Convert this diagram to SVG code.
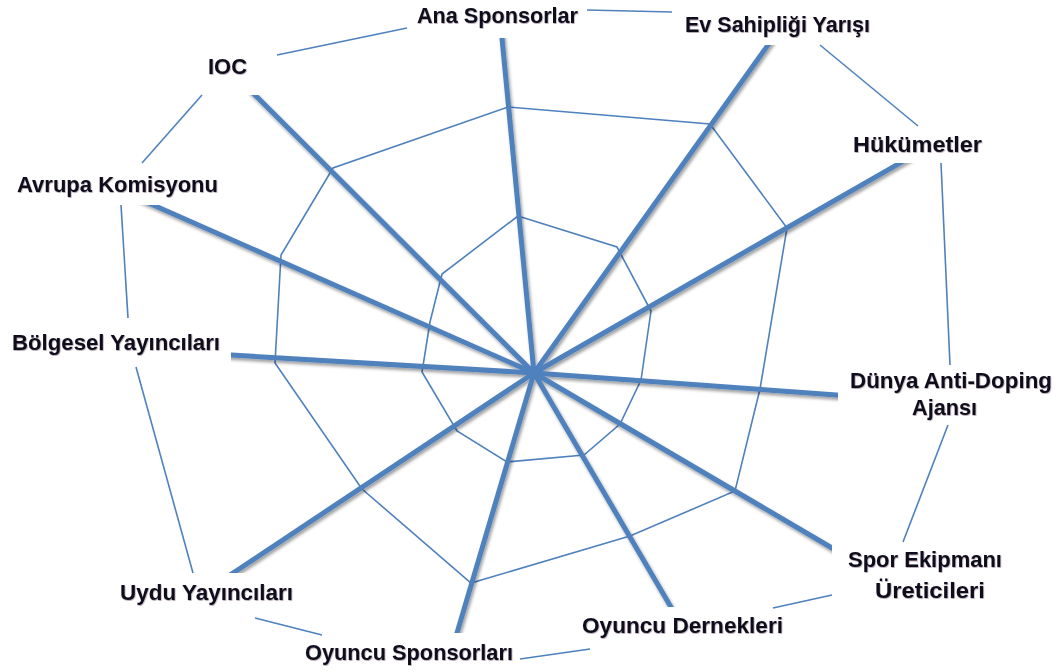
<svg xmlns="http://www.w3.org/2000/svg" width="1062" height="672" viewBox="0 0 1062 672">
  <defs>
    <filter id="shadow" x="-20%" y="-20%" width="140%" height="140%">
      <feDropShadow dx="1.5" dy="2.5" stdDeviation="1.6" flood-color="#000" flood-opacity="0.38"/>
    </filter>
    <filter id="textglow" x="-10%" y="-30%" width="120%" height="160%">
      <feDropShadow dx="0.6" dy="0.8" stdDeviation="0.6" flood-color="#3a1a30" flood-opacity="0.45"/>
    </filter>
  </defs>
  <style>
    .spoke { stroke: #4f81bd; stroke-width: 5; stroke-linecap: butt; fill: none; }
    .web { stroke: #4f81bd; stroke-width: 1.6; fill: none; stroke-linejoin: miter; }
    .rim { stroke: #4f81bd; stroke-width: 1.6; fill: none; }
    .box { fill: #ffffff; stroke: none; }
    .label { font-family: "Liberation Sans", Arial, sans-serif; font-weight: bold; font-size: 21.5px; fill: #0e0e1e; text-anchor: middle; }
  </style>
  <rect width="1062" height="672" fill="#ffffff"/>

  <g id="connectors">
    <!-- inner web ring -->
    <polygon class="web" points="518,216 617,247 651,311 641,380 620,424 584,455 507,462 457,431 422,372 430,322 442,274"/>
    <!-- middle web ring -->
    <polygon class="web" points="508,107 710,124 787,228 760,389 735,491 630,536 471,583 362,489 275,363 281,255 333,168"/>
    <!-- rim links between labels -->
    <line class="rim" x1="407" y1="28" x2="277" y2="55"/>
    <line class="rim" x1="587" y1="10" x2="672" y2="12"/>
    <line class="rim" x1="820" y1="45" x2="918" y2="126"/>
    <line class="rim" x1="941" y1="163" x2="950" y2="365"/>
    <line class="rim" x1="948" y1="425" x2="903" y2="542"/>
    <line class="rim" x1="832" y1="595" x2="773" y2="608"/>
    <line class="rim" x1="590" y1="649" x2="520" y2="659"/>
    <line class="rim" x1="322" y1="635" x2="255" y2="618"/>
    <line class="rim" x1="193" y1="573" x2="136" y2="367"/>
    <line class="rim" x1="128" y1="318" x2="121" y2="205"/>
    <line class="rim" x1="142" y1="163" x2="202" y2="95"/>
    <!-- spokes from the hub -->
    <g filter="url(#shadow)">
      <line class="spoke" x1="534" y1="373" x2="500.7" y2="24.6"/>
      <line class="spoke" x1="534" y1="373" x2="777.4" y2="31.9"/>
      <line class="spoke" x1="534" y1="373" x2="914.6" y2="154.6"/>
      <line class="spoke" x1="534" y1="373" x2="850.2" y2="395.9"/>
      <line class="spoke" x1="534" y1="373" x2="843.9" y2="555"/>
      <line class="spoke" x1="534" y1="373" x2="673.4" y2="611.2"/>
      <line class="spoke" x1="534" y1="373" x2="453.9" y2="643.4"/>
      <line class="spoke" x1="534" y1="373" x2="221" y2="581"/>
      <line class="spoke" x1="534" y1="373" x2="218.9" y2="354.3"/>
      <line class="spoke" x1="534" y1="373" x2="137.8" y2="198.3"/>
      <line class="spoke" x1="534" y1="373" x2="243.8" y2="83.9"/>
    </g>
  </g>

  <!-- white label boxes trimming the spoke ends -->
  <g id="label-boxes">
    <rect class="box" x="480" y="0" width="50" height="38"/>
    <rect class="box" x="740" y="10" width="60" height="35"/>
    <rect class="box" x="845" y="128" width="145" height="35"/>
    <rect class="box" x="838" y="368" width="220" height="55"/>
    <rect class="box" x="832" y="545" width="175" height="48"/>
    <rect class="box" x="600" y="607" width="160" height="33"/>
    <rect class="box" x="380" y="633" width="135" height="36"/>
    <rect class="box" x="200" y="573" width="100" height="40"/>
    <rect class="box" x="150" y="330" width="81" height="40"/>
    <rect class="box" x="125" y="170" width="95" height="35"/>
    <rect class="box" x="205" y="60" width="65" height="35"/>
  </g>

  <g filter="url(#textglow)">
    <g id="ana-sponsorlar"><text class="label" x="497.5" y="23" textLength="161" lengthAdjust="spacingAndGlyphs">Ana Sponsorlar</text></g>
    <g id="ev-sahipligi"><text class="label" x="777.5" y="32" textLength="185" lengthAdjust="spacingAndGlyphs">Ev Sahipliği Yarışı</text></g>
    <g id="hukumetler"><text class="label" x="917.5" y="152" textLength="129" lengthAdjust="spacingAndGlyphs">Hükümetler</text></g>
    <g id="dunya-anti-doping">
      <text class="label" x="951" y="388" textLength="202" lengthAdjust="spacingAndGlyphs">Dünya Anti-Doping</text>
      <text class="label" x="944.5" y="415" textLength="65" lengthAdjust="spacingAndGlyphs">Ajansı</text>
    </g>
    <g id="spor-ekipmani">
      <text class="label" x="925" y="567" textLength="154" lengthAdjust="spacingAndGlyphs">Spor Ekipmanı</text>
      <text class="label" x="930" y="598" textLength="110" lengthAdjust="spacingAndGlyphs">Üreticileri</text>
    </g>
    <g id="oyuncu-dernekleri"><text class="label" x="682.5" y="633" textLength="201" lengthAdjust="spacingAndGlyphs">Oyuncu Dernekleri</text></g>
    <g id="oyuncu-sponsorlari"><text class="label" x="409" y="660" textLength="208" lengthAdjust="spacingAndGlyphs">Oyuncu Sponsorları</text></g>
    <g id="uydu-yayincilari"><text class="label" x="206.5" y="600" textLength="173" lengthAdjust="spacingAndGlyphs">Uydu Yayıncıları</text></g>
    <g id="bolgesel-yayincilari"><text class="label" x="116" y="350" textLength="208" lengthAdjust="spacingAndGlyphs">Bölgesel Yayıncıları</text></g>
    <g id="avrupa-komisyonu"><text class="label" x="117.5" y="192" textLength="201" lengthAdjust="spacingAndGlyphs">Avrupa Komisyonu</text></g>
    <g id="ioc"><text class="label" x="227.5" y="74" textLength="39" lengthAdjust="spacingAndGlyphs">IOC</text></g>
  </g>
</svg>
